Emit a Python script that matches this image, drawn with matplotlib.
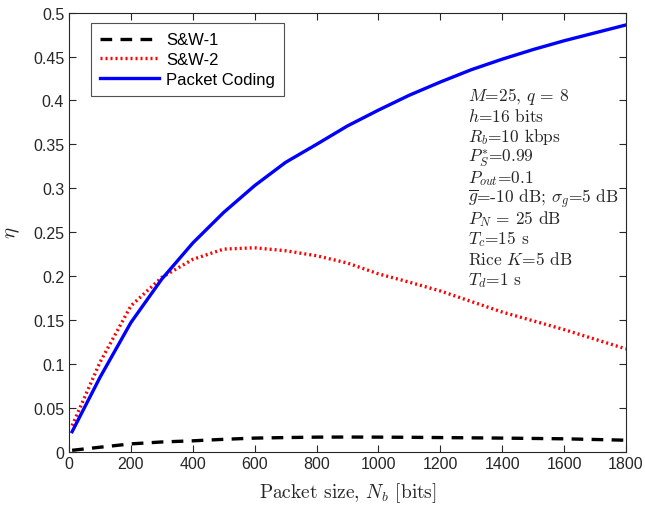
import matplotlib
matplotlib.use("Agg")
import matplotlib.pyplot as plt

plt.rcParams['mathtext.fontset'] = 'cm'

packet_size = [10, 100, 200, 300, 400, 500, 600, 700, 800, 900, 1000,
               1100, 1200, 1300, 1400, 1500, 1600, 1700, 1800]
sw1 = [0.0015, 0.005, 0.0088, 0.011, 0.0123, 0.014, 0.0154, 0.016, 0.0165, 0.0166, 0.0165,
       0.0163, 0.016, 0.0157, 0.0154, 0.015, 0.0146, 0.0138, 0.013]
sw2 = [0.0296, 0.1017, 0.166, 0.1985, 0.219, 0.2307, 0.2322, 0.2288, 0.2231, 0.2148, 0.2025,
       0.193, 0.183, 0.171, 0.159, 0.149, 0.139, 0.128, 0.117]
packet_coding = [0.0227, 0.0845, 0.147, 0.1966, 0.2376, 0.2725, 0.303, 0.3295, 0.350, 0.371, 0.389,
                 0.406, 0.421, 0.435, 0.447, 0.458, 0.468, 0.477, 0.486]

xticks = [0, 200, 400, 600, 800, 1000, 1200, 1400, 1600, 1800]
yticks = [0, 0.05, 0.1, 0.15, 0.2, 0.25, 0.3, 0.35, 0.4, 0.45, 0.5]
ytick_labels = ['0', '0.05', '0.1', '0.15', '0.2', '0.25', '0.3', '0.35', '0.4', '0.45', '0.5']

params = [r'$M$=25, $q$ = 8',
          r'$h$=16 bits',
          r'$R_b$=10 kbps',
          r'$P_S^{*}$=0.99',
          r'$P_{out}$=0.1',
          r'$\overline{g}$=-10 dB; $\sigma_g$=5 dB',
          r'$P_N$ = 25 dB',
          r'$T_c$=15 s',
          r'Rice $K$=5 dB',
          r'$T_d$=1 s']

fig = plt.figure(figsize=(6.45, 5.06), dpi=100)
ax = fig.add_axes([0.107, 0.1055, 0.8635, 0.8675])

ax.plot(packet_size, sw1, color='black', lw=2.4, linestyle=(0, (3.5, 2.5)), label='S&W-1')
ax.plot(packet_size, sw2, color='red', lw=2.4, linestyle=(0, (0.6, 0.9)), label='S&W-2')
ax.plot(packet_size, packet_coding, color='blue', lw=2.4, label='Packet Coding')

ax.set_xlim(0, 1800)
ax.set_ylim(0, 0.5)
ax.set_xticks(xticks)
ax.set_xticklabels([str(v) for v in xticks])
ax.set_yticks(yticks)
ax.set_yticklabels(ytick_labels)
ax.tick_params(direction='in', top=True, right=True, length=5, width=0.8,
               colors='#262626', labelsize=11.5)
for lab in ax.get_xticklabels() + ax.get_yticklabels():
    lab.set_family('Liberation Sans')
for s in ax.spines.values():
    s.set_color('#262626')
    s.set_linewidth(0.8)

ax.set_xlabel(r'Packet size, $N_b$ [bits]', family='cmr10', fontsize=14, color='#262626', labelpad=6)
ax.set_ylabel(r'$\eta$', fontsize=15, color='#262626', labelpad=8)

leg = ax.legend(loc='upper left', bbox_to_anchor=(0.0395, 0.976),
                prop={'family': 'Liberation Sans', 'size': 12},
                frameon=True, fancybox=False, edgecolor='#262626', handlelength=3.5,
                labelspacing=0.28, borderpad=0.55, handletextpad=0.45, borderaxespad=0)
leg.get_frame().set_linewidth(0.8)

y0 = 0.801
dy = 20.5 / (0.8675 * 506)
for i, t in enumerate(params):
    ax.text(0.716, y0 - i * dy, t, transform=ax.transAxes, family='cmr10', fontsize=12.5,
            color='#262626', va='baseline', ha='left')

fig.savefig('out.png', dpi=100, facecolor='white')
